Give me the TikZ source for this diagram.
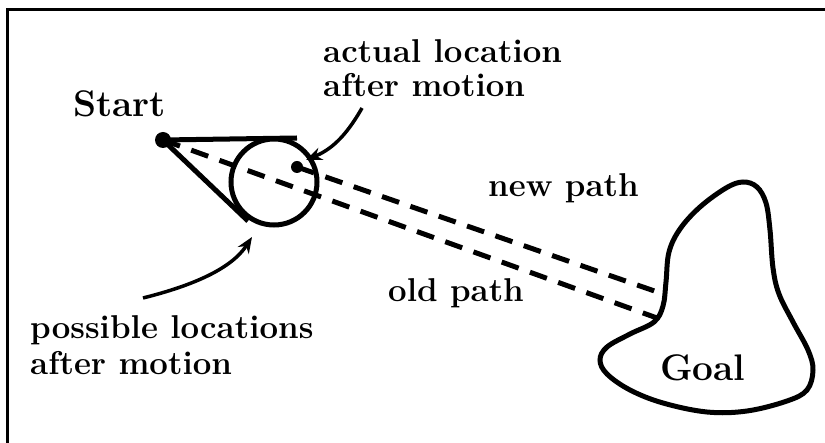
\documentclass[tikz,border=0pt]{standalone}
\usetikzlibrary{arrows.meta}
\begin{document}
\begin{tikzpicture}[x=1pt,y=-1pt,
  lbl/.style={font=\fontsize{33}{34}\selectfont\bfseries, inner sep=0pt, anchor=base west},
  big/.style={font=\fontsize{37}{38}\selectfont\bfseries, inner sep=0pt, anchor=base west},
  heavy/.style={line width=5pt},
  dashline/.style={line width=5pt, dash pattern=on 18pt off 12pt},
  pointer/.style={line width=3.5pt, -{Stealth[length=16pt,width=13pt]}},
  dotnode/.style={circle, fill, inner sep=0pt},
]
\useasboundingbox (0,0) rectangle (825,443);
% frame (right and bottom edges lie outside the picture)
\draw[line width=3pt] (7,10) rectangle (845,470);

% start point and possible locations circle
\node[dotnode, minimum size=16pt] (start) at (163,140) {};
\node[circle, draw, line width=5pt, minimum size=86pt, inner sep=0pt] (poss) at (274,182) {};
\node[dotnode, minimum size=12pt] (adot) at (297,167) {};
\coordinate (ttop) at (297,138);
\coordinate (tbot) at (248,221);
\draw[heavy] (start.center) -- (ttop);
\draw[heavy] (start.center) -- (tbot);

% goal region
\draw[heavy] plot[smooth cycle, tension=0.6] coordinates {
 (743,182) (757,187) (766,203) (770,230) (773,268) (779,294) (793,322) (808,350)
 (813,370) (807,390) (787,401) (747,411) (707,412) (663,403) (630,390) (607,374)
 (600,360) (607,347) (630,334) (654,322) (663,306) (666,282) (669,252) (680,229)
 (700,207) (726,188)};
\coordinate (gold) at (657,318);
\coordinate (gnew) at (666,295);

% paths
\draw[dashline] (start.center) -- (gold);
\draw[dashline] (adot.center) -- (gnew);

% labels
\node[big] (starttxt) at (73,117) {Start};
\node[big] (goaltxt) at (660,381) {Goal};
\node[lbl] (act1) at (323,63) {actual location};
\node[lbl] (act2) at (323,97) {after motion};
\node[lbl] (pos1) at (30,339) {possible locations};
\node[lbl] (pos2) at (30,375) {after motion};
\node[lbl] (newp) at (488,197) {new path};
\node[lbl] (oldp) at (388,302) {old path};

% pointers
\coordinate (a1s) at (362,108);
\coordinate (a1e) at (306,160);
\draw[pointer] (a1s) .. controls (345,138) and (330,150) .. (a1e);
\coordinate (a2s) at (143,298);
\coordinate (a2e) at (252,237);
\draw[pointer] (a2s) .. controls (195,285) and (232,268) .. (a2e);
\end{tikzpicture}
\end{document}
